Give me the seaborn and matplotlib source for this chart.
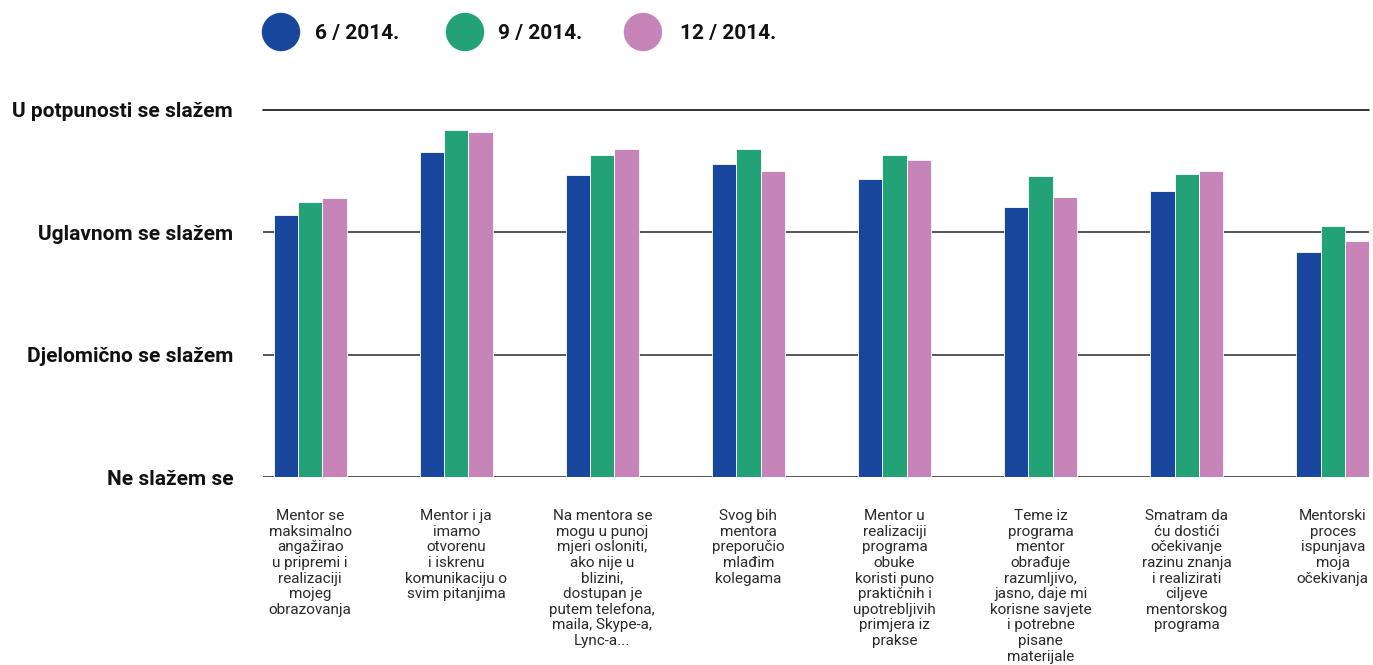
import numpy as np
import pandas as pd
import seaborn as sns
import matplotlib.pyplot as plt

sns.set_theme(style="white")
plt.rcParams['font.family'] = ['Roboto', 'DejaVu Sans']

# categories (x axis labels)
categories = [
    "Mentor se\nmaksimalno\nangažirao\nu pripremi i\nrealizaciji\nmojeg\nobrazovanja",
    "Mentor i ja\nimamo\notvorenu\ni iskrenu\nkomunikaciju o\nsvim pitanjima",
    "Na mentora se\nmogu u punoj\nmjeri osloniti,\nako nije u\nblizini,\ndostupan je\nputem telefona,\nmaila, Skype-a,\nLync-a...",
    "Svog bih\nmentora\npreporučio\nmlađim\nkolegama",
    "Mentor u\nrealizaciji\nprograma\nobuke\nkoristi puno\npraktičnih i\nupotrebljivih\nprimjera iz\nprakse",
    "Teme iz\nprograma\nmentor\nobrađuje\nrazumljivo,\njasno, daje mi\nkorisne savjete\ni potrebne\npisane\nmaterijale",
    "Smatram da\nću dostići\nočekivanje\nrazinu znanja\ni realizirati\nciljeve\nmentorskog\nprograma",
    "Mentorski\nproces\nispunjava\nmoja\nočekivanja",
]
periods = ["6 / 2014.", "9 / 2014.", "12 / 2014."]
jun_2014 = [3.14, 3.66, 3.47, 3.56, 3.44, 3.21, 3.34, 2.84]
sep_2014 = [3.25, 3.84, 3.63, 3.68, 3.63, 3.46, 3.48, 3.05]
dec_2014 = [3.28, 3.82, 3.68, 3.50, 3.59, 3.29, 3.50, 2.93]
scale_labels = ["Ne slažem se", "Djelomično se slažem", "Uglavnom se slažem", "U potpunosti se slažem"]
colors = ["#1a479e", "#22a276", "#c784b8"]

df = pd.DataFrame({
    "cat": categories * 3,
    "period": [p for p in periods for _ in categories],
    "value": jun_2014 + sep_2014 + dec_2014,
})

fig = plt.figure(figsize=(13.73, 6.65), dpi=100)
ax = fig.add_axes([0.1916, 0.2827, 0.8055, 0.5519])

sns.barplot(data=df, x="cat", y="value", hue="period", order=categories,
            hue_order=periods, palette=colors, saturation=1, width=0.5, gap=0,
            edgecolor="white", linewidth=0.6, legend=False, ax=ax)

ax.set_ylim(1, 4)
ax.set_xlim(-0.322, 7.248)
ax.set_yticks([1, 2, 3, 4])
ax.set_yticklabels(scale_labels, fontsize=15, fontweight="bold", color="#111111")
ax.tick_params(axis="y", length=0, pad=21.5)
ax.tick_params(axis="x", length=0, pad=23)
ax.set_xticks(range(len(categories)))
ax.set_xticklabels(categories, fontsize=11, fontweight="normal",
                   color="#2a2a2a", linespacing=1.15, va="top")
ax.set_xlabel("")
ax.set_ylabel("")
ax.set_axisbelow(True)
for y in [1, 2, 3]:
    ax.axhline(y, color="#3a3a3a", lw=1.2, zorder=0)
ax.axhline(4, color="#111111", lw=1.2, zorder=0, clip_on=False)
sns.despine(ax=ax, left=True, bottom=True)

# legend across the top
leg_x = [281, 465, 643]
text_x = [315, 498, 680]
for lx, tx, c, p in zip(leg_x, text_x, colors, periods):
    fig.patches.append(plt.Circle((lx, 665 - 32), 18.5, transform=None,
                                  color=c, figure=fig))
    fig.text(tx / 1373, 1 - 33 / 665, p, fontsize=15, fontweight="bold",
             color="#111111", va="center", ha="left")

fig.savefig("out.png", dpi=100)
